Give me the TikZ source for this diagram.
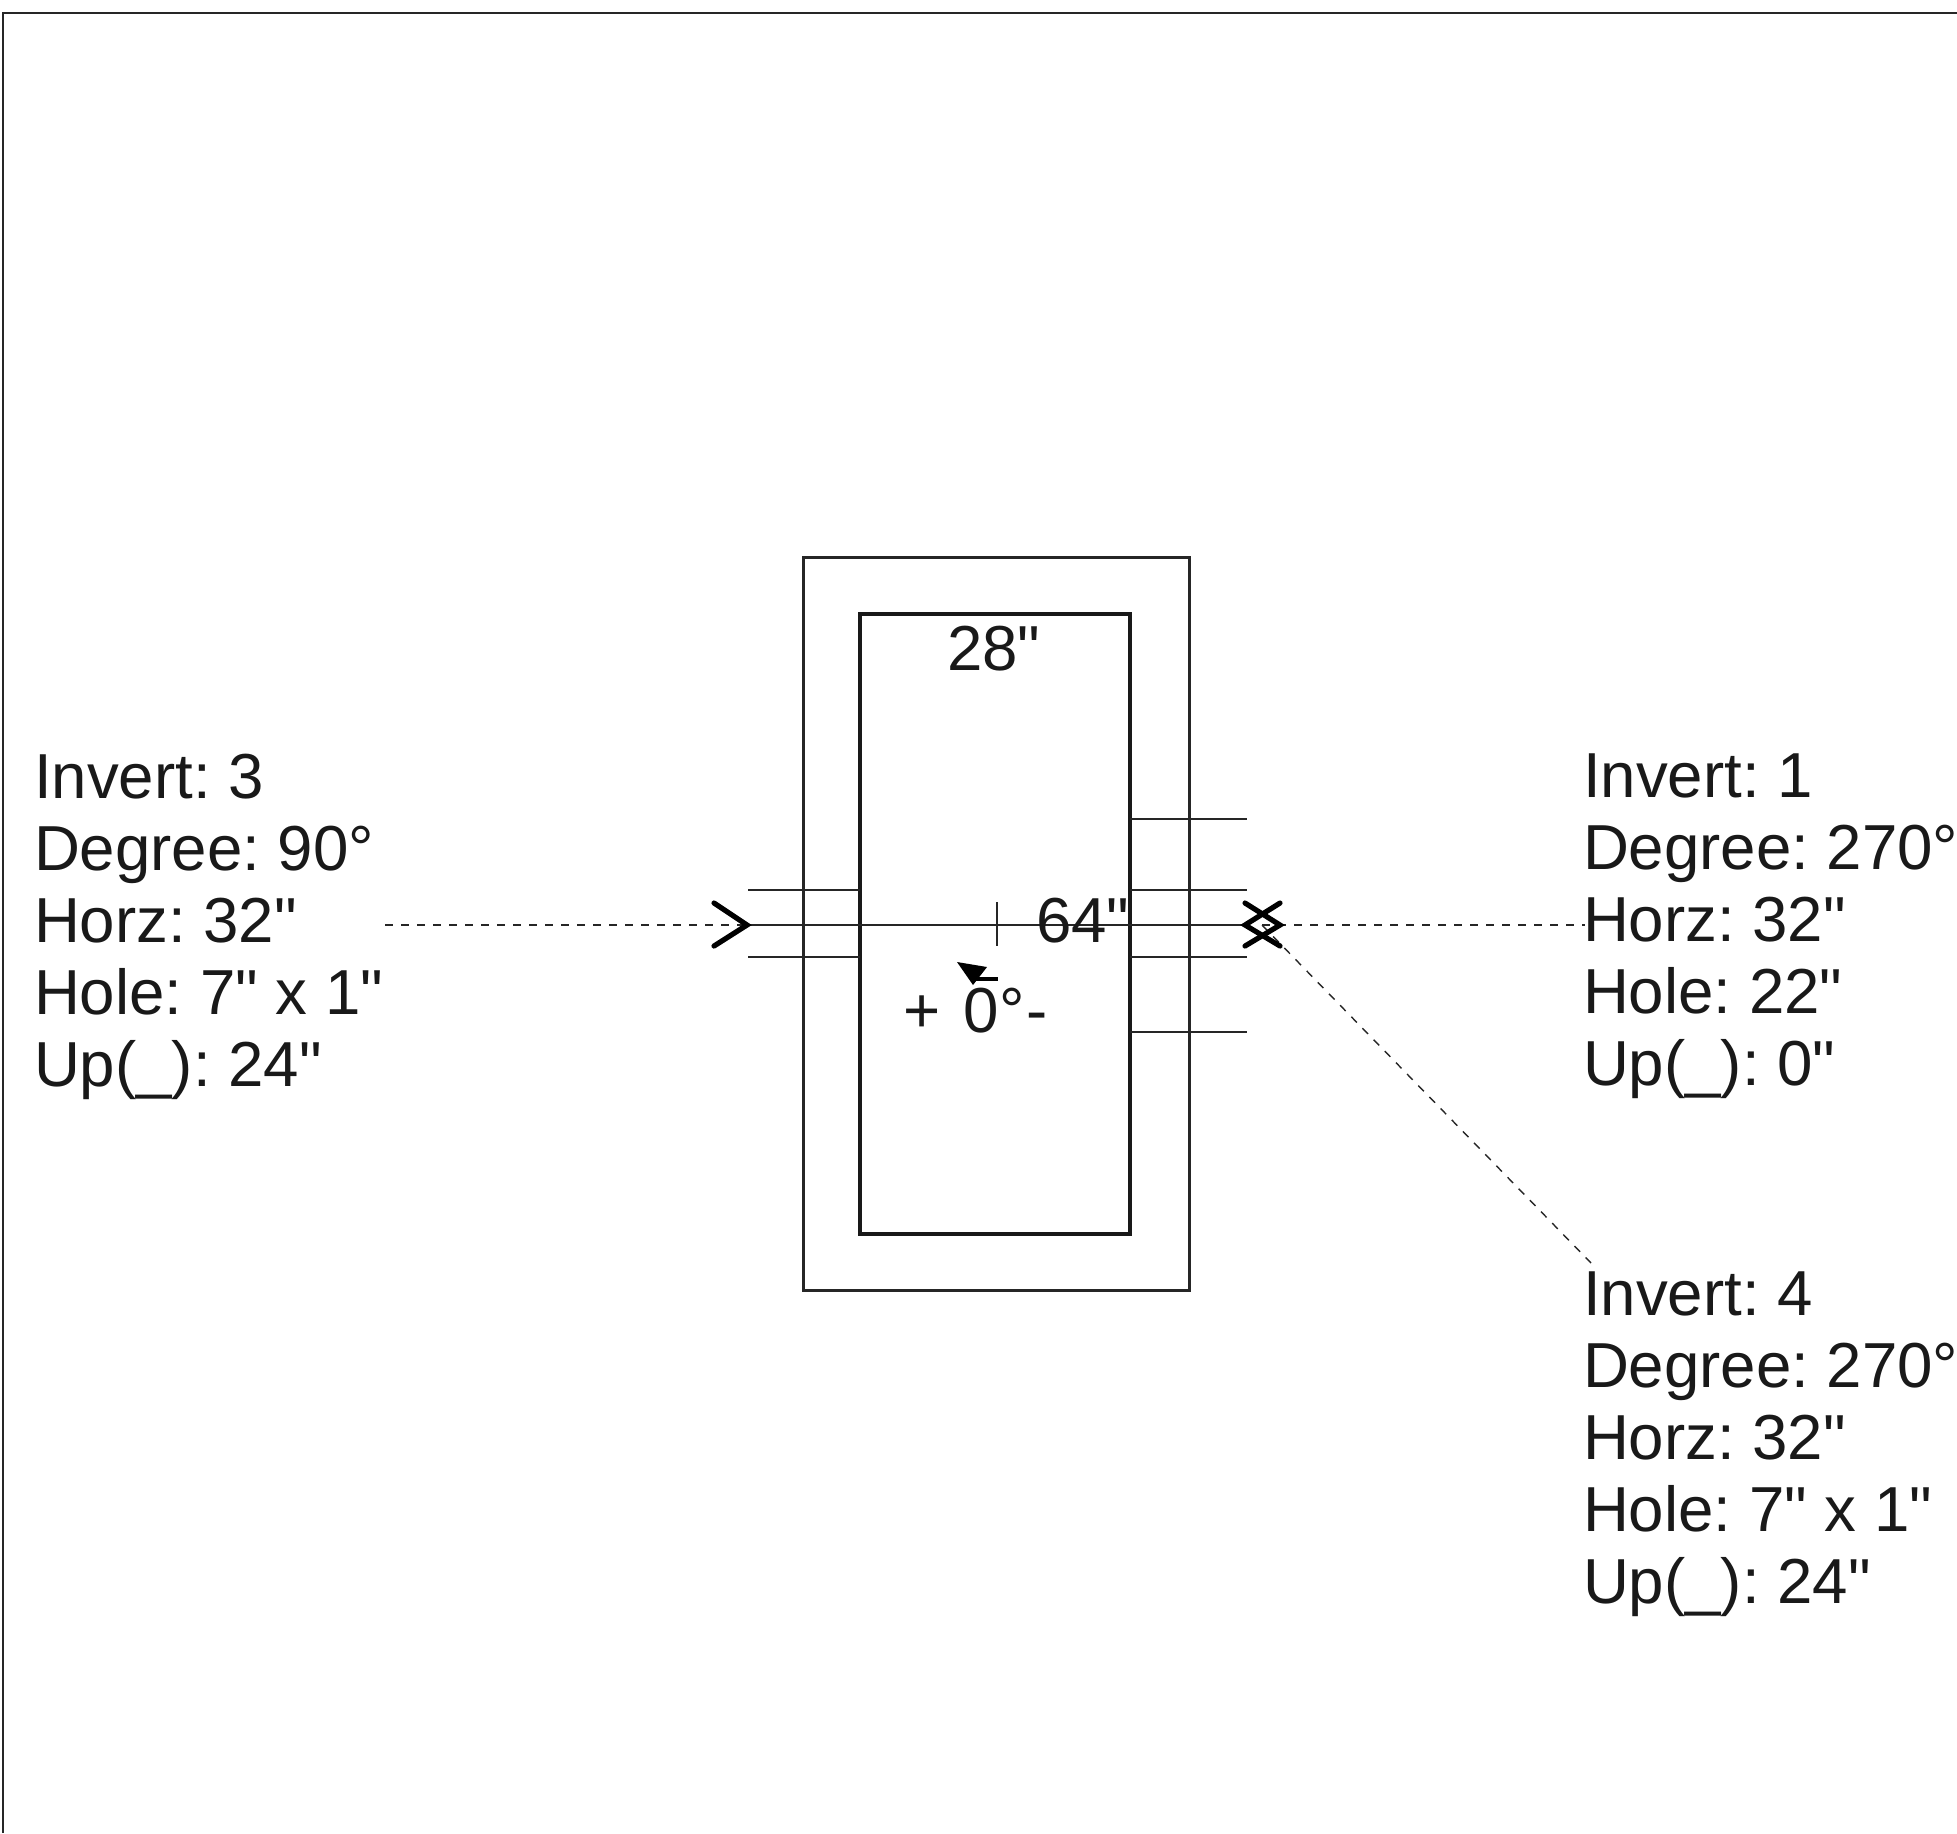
\documentclass[tikz,border=0pt]{standalone}
\usepackage{fontspec}
\newfontfamily\arialfont{Liberation Sans}
\tikzset{
  thinline/.style={draw=black!85,line width=1.1pt},
  boxthick/.style={draw=black!90,line width=2.2pt,rectangle,inner sep=0pt,outer sep=0pt},
  boxthin/.style={draw=black!85,line width=1.05pt,rectangle,inner sep=0pt,outer sep=0pt},
  dashline/.style={draw=black!85,line width=0.9pt,dash pattern=on 4pt off 4pt},
  chevron/.style={draw=black,line width=2.6pt,line cap=round,line join=miter},
  info/.style={anchor=north west,inner sep=0pt,outer sep=0pt,align=left,font=\arialfont\frenchspacing\fontsize{31.8}{36}\selectfont,text=black!90},
  lab/.style={anchor=base west,inner sep=0pt,outer sep=0pt,font=\arialfont\frenchspacing\fontsize{31.8}{36}\selectfont,text=black!90}
}
\begin{document}
\begin{tikzpicture}[x=0.5pt,y=-0.5pt]
\useasboundingbox (0,0) rectangle (1957,1833);
% frame
\coordinate (fa) at (3,1833); \coordinate (fb) at (3,13); \coordinate (fc) at (1957,13);
\draw[thinline] (fa) -- (fb) -- (fc);
% boxes
\node[boxthin,minimum width=193pt,minimum height=366.5pt] (outer) at (996.5,924) {};
\node[boxthick,minimum width=135pt,minimum height=310pt] (inner) at (995,924) {};
% key points
\coordinate (lend) at (748,925);
\coordinate (rend) at (1247,925);
\coordinate (tip) at (747,925);
\coordinate (cross) at (1262,925);
\coordinate (tickt) at (997,902);
\coordinate (tickb) at (997,946);
% stubs
\foreach \n/\yy in {a/890,b/957}{
  \coordinate (ls\n) at (748,\yy);
  \draw[thinline] (ls\n) -- (ls\n -| inner.west);
}
\foreach \n/\yy in {a/819,b/890,c/957,d/1032}{
  \coordinate (rs\n) at (1247,\yy);
  \draw[thinline] (rs\n -| inner.east) -- (rs\n);
}
\draw[thinline] (lend) -- (rend);
\draw[thinline] (tickt) -- (tickb);
% texts
\node[info] (t3) at (34,754) {Invert: 3\\Degree: 90°\\Horz: 32"\\Hole: 7" x 1"\\Up(\_): 24"};
\node[info] (t1) at (1583,754) {Invert: 1\\Degree: 270°\\Horz: 32"\\Hole: 22"\\Up(\_): 0"};
\node[info] (t4) at (1583,1272) {Invert: 4\\Degree: 270°\\Horz: 32"\\Hole: 7" x 1"\\Up(\_): 24"};
\node[lab] (w) at (947,670) {28"};
\node[lab] (h) at (1036,942) {64"};
\node[lab] (ang) at (903,1032) {+\hspace{3pt} 0°\hspace{1pt}-};
% dashed connectors
\coordinate (ld) at (385,925);
\coordinate (rd) at (1585,925);
\coordinate (dd) at (1591,1263);
\draw[dashline] (ld) -- (tip);
\draw[dashline] (cross) -- (rd);
\draw[dashline,line width=0.7pt] (cross) -- (dd);
% chevrons
\draw[chevron] (714,903) -- (tip) -- (714,946);
\draw[chevron] (1245,903) -- (1280,925) -- (1245,946);
\draw[chevron] (1280,903) -- (1245,925) -- (1280,946);
% rotation arrow
\coordinate (rt) at (957,962);
\fill[black] (rt) -- (973,985) -- (987,967) -- cycle;
\draw[chevron,line cap=butt,line width=2pt] (973,979) -- (998,979);
\end{tikzpicture}
\end{document}
